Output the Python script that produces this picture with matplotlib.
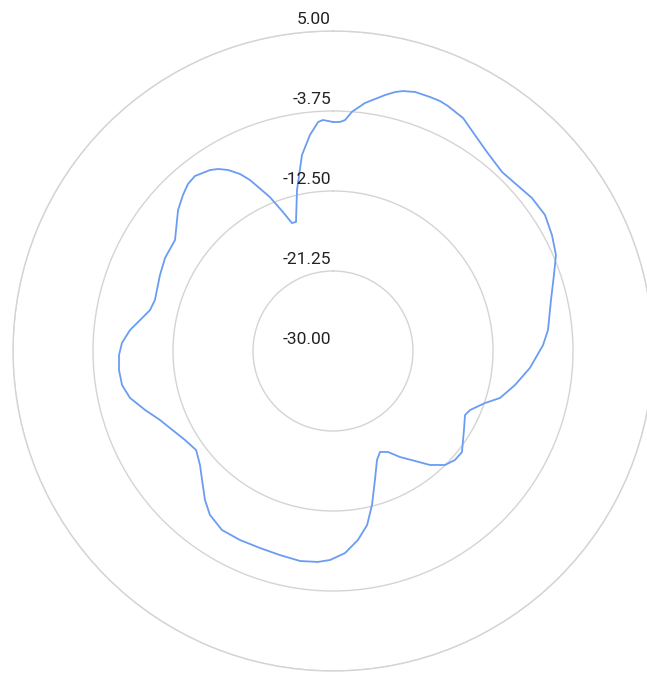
import numpy as np
import matplotlib
matplotlib.use("Agg")
import matplotlib.pyplot as plt

# Data (angle in degrees clockwise from top, value)
angles_deg = [0.0, 1.75, 3.0, 4.5, 7.35, 11.5, 13.5, 15.1, 17.6, 20.9, 23.2, 25.1, 29.2,
              33.3, 37.7, 43.4, 47.9, 52.4, 57.3, 62.1, 66.7, 71.0, 76.8, 84.4, 88.4,
              94.9, 100.6, 105.7, 108.9, 113.3, 115.9, 121.1, 128.1, 131.8, 135.5,
              139.6, 143.3, 147.7, 151.4, 155.0, 158.0, 162.0, 165.8, 168.9, 172.5,
              176.6, 180.8, 184.1, 188.9, 194.6, 200.3, 206.2, 211.8, 216.9, 220.7,
              225.4, 229.4, 234.1, 239.0, 244.7, 248.3, 252.6, 257.0, 260.8, 264.9,
              268.9, 272.2, 275.9, 280.1, 282.6, 286.0, 293.7, 299.0, 305.1, 312.3,
              316.1, 319.0, 321.7, 325.8, 327.7, 329.9, 332.3, 334.1, 337.7, 340.2,
              342.2, 344.0, 347.4, 351.0, 353.9, 356.3, 357.5, 360.0]
values = [-4.95, -4.94, -4.70, -3.77, -2.65, -1.43, -0.87, -0.55, -0.28, -0.26, -0.26,
          -0.40, -0.82, -1.73, -2.48, -3.07, -2.90, -2.55, -2.45, -2.90, -3.45, -4.44,
          -5.51, -6.37, -7.02, -8.38, -9.75, -11.02, -12.43, -13.68, -13.95, -13.27,
          -12.08, -12.11, -12.52, -13.63, -15.00, -16.28, -17.42, -17.82, -17.15,
          -15.16, -12.62, -10.61, -9.15, -7.86, -7.14, -6.87, -6.75, -6.94, -7.02,
          -6.96, -6.96, -7.58, -8.52, -9.89, -10.84, -11.52, -11.11, -10.28, -9.62,
          -8.45, -7.21, -6.63, -6.50, -6.59, -6.90, -7.68, -8.89, -9.49, -9.74, -9.33,
          -9.00, -8.88, -7.09, -6.33, -5.81, -5.62, -6.07, -6.45, -7.11, -8.14, -9.21,
          -11.80, -13.85, -15.30, -15.32, -11.95, -8.30, -6.24, -4.90, -4.71, -4.95]

r_ticks = [-30.0, -21.25, -12.5, -3.75, 5.0]
r_tick_labels = ["-30.00", "-21.25", "-12.50", "-3.75", "5.00"]

W, H = 647, 675
fig = plt.figure(figsize=(W / 100, H / 100), dpi=100)
cx, cy, R = 333, 351, 320
ax = fig.add_axes([(cx - R) / W, (H - cy - R) / H, 2 * R / W, 2 * R / H],
                  projection="polar")
ax.set_theta_zero_location("N")
ax.set_theta_direction(-1)
ax.set_ylim(r_ticks[0], r_ticks[-1])

grid_color = "#d4d4d4"
ax.set_rticks(r_ticks)
ax.set_yticklabels([])
ax.set_xticks([])
ax.xaxis.grid(False)
ax.yaxis.grid(True, color=grid_color, linewidth=1.0)
ax.spines["polar"].set_color(grid_color)
ax.spines["polar"].set_linewidth(1.0)
ax.set_facecolor("white")

th = np.deg2rad(angles_deg)
ax.plot(th, values, color="#6a9cf2", linewidth=1.3, clip_on=False,
        solid_joinstyle="round")

for r, lab in zip(r_ticks, r_tick_labels):
    ax.annotate(lab, xy=(0, r), xytext=(-2, 4), textcoords="offset pixels",
                ha="right", va="bottom", fontsize=12.5, family=["Roboto", "DejaVu Sans"],
                color="#222222", annotation_clip=False)

fig.savefig("out.png", dpi=100, facecolor="white")
